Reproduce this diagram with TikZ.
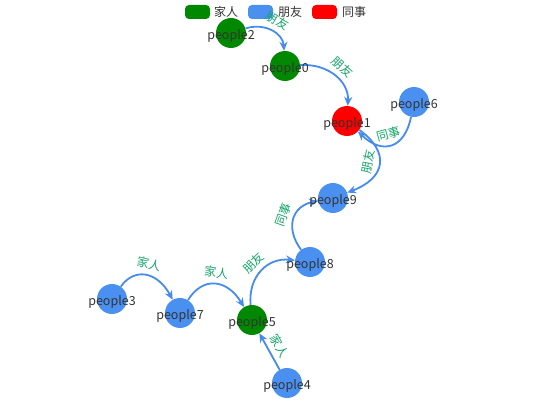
\documentclass[tikz,border=0pt]{standalone}
\usepackage{fontspec}
\setmainfont{Noto Sans CJK SC}
\usetikzlibrary{arrows.meta,calc}
\definecolor{cgreen}{RGB}{0,136,0}
\definecolor{cblue}{RGB}{74,144,240}
\definecolor{cred}{RGB}{255,0,0}
\definecolor{cedge}{RGB}{70,140,238}
\definecolor{clab}{RGB}{20,165,105}
\definecolor{ctext}{RGB}{51,51,51}
\newcommand\qedge[4]{\draw[edge] (#1) .. controls ($(#1)!2/3!(#3)$) and ($(#2)!2/3!(#3)$) .. (#2) node[elab]{#4};}
\begin{document}
\begin{tikzpicture}[x=1pt,y=-1pt,
  person/.style={circle,minimum size=30pt,inner sep=0pt,draw=none},
  fam/.style={person,fill=cgreen},
  fri/.style={person,fill=cblue},
  col/.style={person,fill=cred},
  nlab/.style={text=ctext,font=\fontsize{12.5pt}{12.5pt}\selectfont,inner sep=0pt},
  edge/.style={draw=cedge,line width=1.8pt,-{Stealth[length=9pt,width=8pt]}},
  elab/.style={midway,sloped,above=5pt,inner sep=0pt,text=clab,font=\fontsize{12pt}{12pt}\selectfont},
  legbox/.style={rounded corners=4pt,minimum width=25pt,minimum height=14pt,inner sep=0pt,draw=none},
  legtext/.style={anchor=west,text=ctext,font=\fontsize{12pt}{12pt}\selectfont,inner sep=0pt}]
\useasboundingbox[fill=white] (0,0) rectangle (550,420);
% legend
\node[legbox,fill=cgreen] (lg1) at (197.5,12) {};
\node[legtext] (lt1) at (214,12) {家人};
\node[legbox,fill=cblue] (lg2) at (260.5,12) {};
\node[legtext] (lt2) at (278,12) {朋友};
\node[legbox,fill=cred] (lg3) at (324.5,12) {};
\node[legtext] (lt3) at (342,12) {同事};
% nodes
\node[fam] (p2) at (231,33) {};
\node[fam] (p0) at (285,66) {};
\node[col] (p1) at (347,121) {};
\node[fri] (p6) at (414,102) {};
\node[fri] (p9) at (333,198) {};
\node[fri] (p8) at (310,262) {};
\node[fam] (p5) at (252,320) {};
\node[fri] (p4) at (287,383) {};
\node[fri] (p3) at (112,299) {};
\node[fri] (p7) at (180,313) {};
% edges
\qedge{p2}{p0}{282,17}{朋友}
\qedge{p0}{p1}{350,62}{朋友}
\qedge{p6}{p1}{400,172}{同事}
\qedge{p1}{p9}{412,168}{朋友}
\qedge{p8}{p9}{272,210}{同事}
\qedge{p5}{p8}{246,255}{朋友}
\qedge{p3}{p7}{146,251}{家人}
\qedge{p7}{p5}{214,258}{家人}
\draw[edge] (p4) -- (p5) node[elab]{家人};
% node labels
\foreach \n/\t in {p2/people2,p0/people0,p1/people1,p6/people6,p9/people9,p8/people8,p5/people5,p4/people4,p3/people3,p7/people7}
  \node[nlab] (l\n) at ($(\n)+(0,2.5)$) {\t};
\end{tikzpicture}
\end{document}
